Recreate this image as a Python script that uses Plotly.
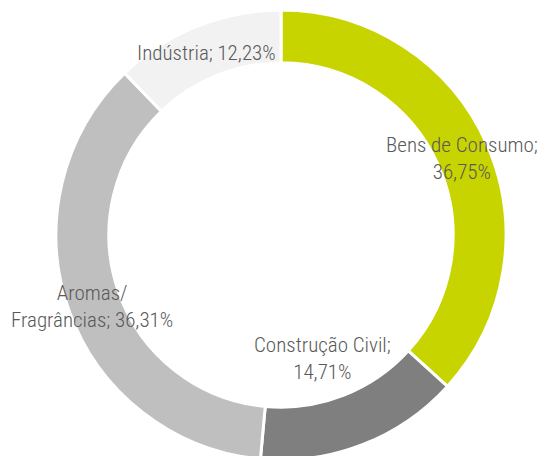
import plotly.graph_objects as go

# Data
labels = ["Bens de Consumo", "Construção Civil", "Aromas/Fragrâncias", "Indústria"]
values = [36.75, 14.71, 36.31, 12.23]
colors = ["#c8d400", "#7f7f7f", "#bfbfbf", "#f2f2f2"]
# how each label is broken into lines
label_lines = [
    ["Bens de Consumo;", "{v}"],
    ["Construção Civil;", "{v}"],
    ["Aromas/", "Fragrâncias; {v}"],
    ["Indústria; {v}"],
]

W, H = 545, 470

def fmt(v):
    return f"{v:.2f}%".replace(".", ",")

fig = go.Figure(go.Pie(
    labels=labels,
    values=values,
    marker=dict(colors=colors, line=dict(color="white", width=3)),
    hole=0.765,
    sort=False,
    direction="clockwise",
    rotation=0,
    textinfo="none",
    hoverinfo="label+percent",
    domain=dict(x=[56 / W, 506 / W], y=[(H - 460) / H, (H - 10) / H]),
    showlegend=False,
))

# label anchor positions (pixel centres in the reference)
label_pos = [(462, 158), (322, 358), (92, 306), (206, 53)]

for lines, v, (px, py) in zip(label_lines, values, label_pos):
    txt = "<br>".join(l.format(v=fmt(v)) for l in lines)
    fig.add_annotation(
        x=px / W, y=(H - py) / H, xref="paper", yref="paper",
        text=txt, showarrow=False, align="center",
        xanchor="center", yanchor="middle",
        font=dict(family="Roboto Condensed, Liberation Sans Narrow, Roboto", size=21,
                  color="#595959", weight=300),
    )

fig.update_layout(
    width=W, height=H,
    margin=dict(l=0, r=0, t=0, b=0),
    paper_bgcolor="white",
    plot_bgcolor="white",
)

fig.write_html("out.html", config={"displayModeBar": False},
               post_script="document.body.style.margin='0';document.body.style.overflow='hidden';")
